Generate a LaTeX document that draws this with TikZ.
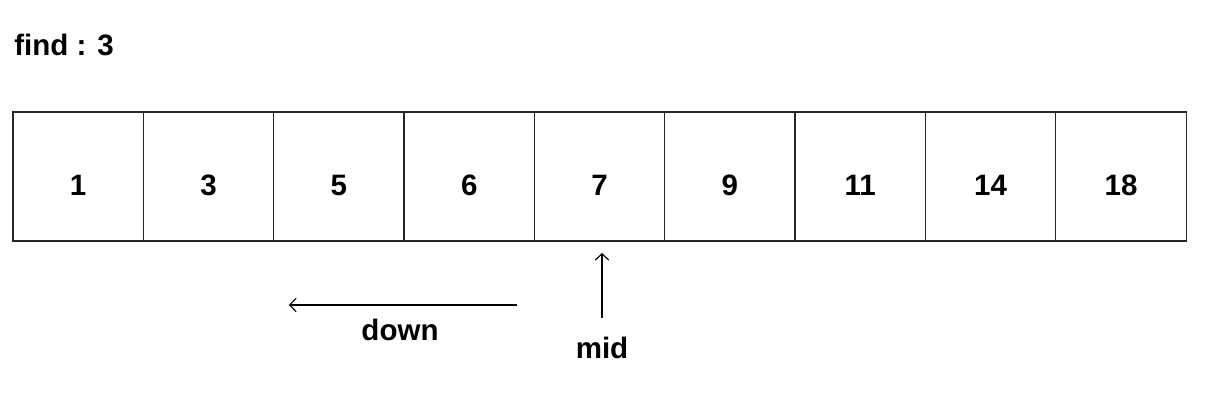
\documentclass[tikz,border=0pt]{standalone}
\usepackage{fontspec}
\setmainfont{Liberation Sans}
\usetikzlibrary{arrows.meta,positioning}
\tikzset{
  cell/.style={draw=black!85, line width=0.9pt, outer sep=0pt, minimum width=3.258cm, minimum height=3.225cm, inner sep=0pt, text height=0.925cm, text depth=0pt, font=\fontsize{21}{24}\selectfont\bfseries},
  lbl/.style={inner sep=0pt, font=\fontsize{21}{24}\selectfont\bfseries},
  ptr/.style={-{Straight Barb[length=1.6mm, width=3.4mm]}, line width=0.8pt, draw=black}
}
\begin{document}
\begin{tikzpicture}[x=0.025cm, y=-0.025cm]
  \useasboundingbox (0,0) rectangle (1212,412);
  \node[lbl, anchor=west] (find) at (14,45) {find : 3};

  \node[cell, anchor=north west] (c1) at (13,112) {1};
  \foreach \v [count=\i from 2, remember=\i as \j (initially 1)] in {3,5,6,7,9,11,14,18}
    \node[cell, right=0pt of c\j] (c\i) {\v};

  \node[lbl] (mid) at (602,348) {mid};
  \coordinate (midtip) at (602,253);
  \draw[ptr] (602,318) -- (midtip);

  \coordinate (dstart) at (517,305);
  \coordinate (dend) at (289,305);
  \draw[ptr] (dstart) -- (dend);
  \node[lbl] (down) at (400,330) {down};
\end{tikzpicture}
\end{document}
